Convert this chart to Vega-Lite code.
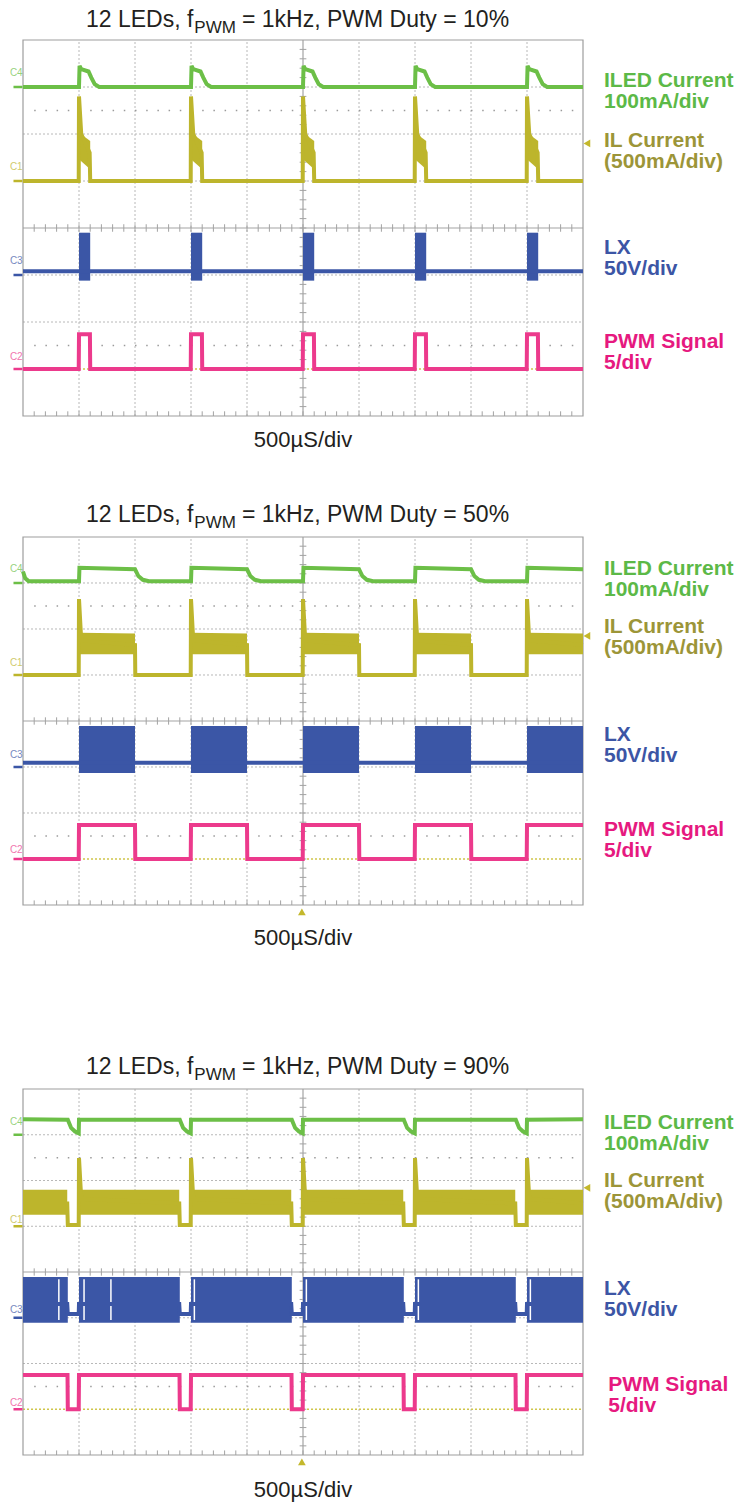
{
"$schema": "https://vega.github.io/schema/vega-lite/v6.json",
"background": "white",
"padding": {"left": 9, "top": 8, "right": 0, "bottom": 0},
"config": {"view": {"stroke": null}, "text": {"font": "Liberation Sans"}},
"datasets": {
"gridV": [{"t":1},{"t":2},{"t":3},{"t":4},{"t":6},{"t":7},{"t":8},{"t":9}],
"gridH": [{"v":2},{"v":3},{"v":5},{"v":6},{"v":7}],
"dotsH": [{"v":1.5},{"v":6.5}],
"ref1": [{"v":1}],
"centerV": [{"t":5}],
"centerH": [{"v":4}],
"one": [{"k":1}],
"ticksT": [{"t":0.2},{"t":0.4},{"t":0.6},{"t":0.8},{"t":1},{"t":1.2},{"t":1.4},{"t":1.6},{"t":1.8},{"t":2},{"t":2.2},{"t":2.4},{"t":2.6},{"t":2.8},{"t":3},{"t":3.2},{"t":3.4},{"t":3.6},{"t":3.8},{"t":4},{"t":4.2},{"t":4.4},{"t":4.6},{"t":4.8},{"t":5},{"t":5.2},{"t":5.4},{"t":5.6},{"t":5.8},{"t":6},{"t":6.2},{"t":6.4},{"t":6.6},{"t":6.8},{"t":7},{"t":7.2},{"t":7.4},{"t":7.6},{"t":7.8},{"t":8},{"t":8.2},{"t":8.4},{"t":8.6},{"t":8.8},{"t":9},{"t":9.2},{"t":9.4},{"t":9.6},{"t":9.8}],
"ticksV": [{"v":0.2},{"v":0.4},{"v":0.6},{"v":0.8},{"v":1},{"v":1.2},{"v":1.4},{"v":1.6},{"v":1.8},{"v":2},{"v":2.2},{"v":2.4},{"v":2.6},{"v":2.8},{"v":3},{"v":3.2},{"v":3.4},{"v":3.6},{"v":3.8},{"v":4},{"v":4.2},{"v":4.4},{"v":4.6},{"v":4.8},{"v":5},{"v":5.2},{"v":5.4},{"v":5.6},{"v":5.8},{"v":6},{"v":6.2},{"v":6.4},{"v":6.6},{"v":6.8},{"v":7},{"v":7.2},{"v":7.4},{"v":7.6},{"v":7.8}],
"markers": [{"c":"C4","v":7},{"c":"C1","v":5},{"c":"C3","v":3},{"c":"C2","v":1}],
"p1l": [
{"c":"C4","t":0,"v":7},
{"c":"C4","t":1,"v":7},{"c":"C4","t":1.01,"v":7.45},{"c":"C4","t":1.04,"v":7.38},{"c":"C4","t":1.17,"v":7.33},{"c":"C4","t":1.22,"v":7.2},{"c":"C4","t":1.28,"v":7.06},{"c":"C4","t":1.36,"v":7},
{"c":"C4","t":3,"v":7},{"c":"C4","t":3.01,"v":7.45},{"c":"C4","t":3.04,"v":7.38},{"c":"C4","t":3.17,"v":7.33},{"c":"C4","t":3.22,"v":7.2},{"c":"C4","t":3.28,"v":7.06},{"c":"C4","t":3.36,"v":7},
{"c":"C4","t":5,"v":7},{"c":"C4","t":5.01,"v":7.45},{"c":"C4","t":5.04,"v":7.38},{"c":"C4","t":5.17,"v":7.33},{"c":"C4","t":5.22,"v":7.2},{"c":"C4","t":5.28,"v":7.06},{"c":"C4","t":5.36,"v":7},
{"c":"C4","t":7,"v":7},{"c":"C4","t":7.01,"v":7.45},{"c":"C4","t":7.04,"v":7.38},{"c":"C4","t":7.17,"v":7.33},{"c":"C4","t":7.22,"v":7.2},{"c":"C4","t":7.28,"v":7.06},{"c":"C4","t":7.36,"v":7},
{"c":"C4","t":9,"v":7},{"c":"C4","t":9.01,"v":7.45},{"c":"C4","t":9.04,"v":7.38},{"c":"C4","t":9.17,"v":7.33},{"c":"C4","t":9.22,"v":7.2},{"c":"C4","t":9.28,"v":7.06},{"c":"C4","t":9.36,"v":7},
{"c":"C4","t":10,"v":7},
{"c":"C1","t":0,"v":5},
{"c":"C1","t":0.995,"v":5},{"c":"C1","t":1,"v":6.8},{"c":"C1","t":1.04,"v":6},{"c":"C1","t":1.19,"v":5.6},{"c":"C1","t":1.2,"v":5},
{"c":"C1","t":2.995,"v":5},{"c":"C1","t":3,"v":6.8},{"c":"C1","t":3.04,"v":6},{"c":"C1","t":3.19,"v":5.6},{"c":"C1","t":3.2,"v":5},
{"c":"C1","t":4.995,"v":5},{"c":"C1","t":5,"v":6.8},{"c":"C1","t":5.04,"v":6},{"c":"C1","t":5.19,"v":5.6},{"c":"C1","t":5.2,"v":5},
{"c":"C1","t":6.995,"v":5},{"c":"C1","t":7,"v":6.8},{"c":"C1","t":7.04,"v":6},{"c":"C1","t":7.19,"v":5.6},{"c":"C1","t":7.2,"v":5},
{"c":"C1","t":8.995,"v":5},{"c":"C1","t":9,"v":6.8},{"c":"C1","t":9.04,"v":6},{"c":"C1","t":9.19,"v":5.6},{"c":"C1","t":9.2,"v":5},
{"c":"C1","t":10,"v":5},
{"c":"C3","t":0,"v":3.08},{"c":"C3","t":10,"v":3.08},
{"c":"C2","t":0,"v":1},
{"c":"C2","t":0.995,"v":1},{"c":"C2","t":1,"v":1.74},{"c":"C2","t":1.195,"v":1.74},{"c":"C2","t":1.2,"v":1},
{"c":"C2","t":2.995,"v":1},{"c":"C2","t":3,"v":1.74},{"c":"C2","t":3.195,"v":1.74},{"c":"C2","t":3.2,"v":1},
{"c":"C2","t":4.995,"v":1},{"c":"C2","t":5,"v":1.74},{"c":"C2","t":5.195,"v":1.74},{"c":"C2","t":5.2,"v":1},
{"c":"C2","t":6.995,"v":1},{"c":"C2","t":7,"v":1.74},{"c":"C2","t":7.195,"v":1.74},{"c":"C2","t":7.2,"v":1},
{"c":"C2","t":8.995,"v":1},{"c":"C2","t":9,"v":1.74},{"c":"C2","t":9.195,"v":1.74},{"c":"C2","t":9.2,"v":1},
{"c":"C2","t":10,"v":1}
],
"p1b": [
{"c":"C3","g":"b1","t":1,"lo":2.88,"hi":3.9},{"c":"C3","g":"b1","t":1.2,"lo":2.88,"hi":3.9},
{"c":"C3","g":"b3","t":3,"lo":2.88,"hi":3.9},{"c":"C3","g":"b3","t":3.2,"lo":2.88,"hi":3.9},
{"c":"C3","g":"b5","t":5,"lo":2.88,"hi":3.9},{"c":"C3","g":"b5","t":5.2,"lo":2.88,"hi":3.9},
{"c":"C3","g":"b7","t":7,"lo":2.88,"hi":3.9},{"c":"C3","g":"b7","t":7.2,"lo":2.88,"hi":3.9},
{"c":"C3","g":"b9","t":9,"lo":2.88,"hi":3.9},{"c":"C3","g":"b9","t":9.2,"lo":2.88,"hi":3.9},
{"c":"C1","g":"a1","t":1.01,"lo":5.45,"hi":6.02},{"c":"C1","g":"a1","t":1.2,"lo":5.25,"hi":5.85},
{"c":"C1","g":"a3","t":3.01,"lo":5.45,"hi":6.02},{"c":"C1","g":"a3","t":3.2,"lo":5.25,"hi":5.85},
{"c":"C1","g":"a5","t":5.01,"lo":5.45,"hi":6.02},{"c":"C1","g":"a5","t":5.2,"lo":5.25,"hi":5.85},
{"c":"C1","g":"a7","t":7.01,"lo":5.45,"hi":6.02},{"c":"C1","g":"a7","t":7.2,"lo":5.25,"hi":5.85},
{"c":"C1","g":"a9","t":9.01,"lo":5.45,"hi":6.02},{"c":"C1","g":"a9","t":9.2,"lo":5.25,"hi":5.85}
],
"p2l": [
{"c":"C4","t":0,"v":7.25},{"c":"C4","t":0.04,"v":7.1},{"c":"C4","t":0.1,"v":7.04},
{"c":"C4","t":1,"v":7.04},{"c":"C4","t":1.008,"v":7.33},{"c":"C4","t":2,"v":7.3},{"c":"C4","t":2.06,"v":7.15},{"c":"C4","t":2.14,"v":7.07},{"c":"C4","t":2.25,"v":7.04},
{"c":"C4","t":3,"v":7.04},{"c":"C4","t":3.008,"v":7.33},{"c":"C4","t":4,"v":7.3},{"c":"C4","t":4.06,"v":7.15},{"c":"C4","t":4.14,"v":7.07},{"c":"C4","t":4.25,"v":7.04},
{"c":"C4","t":5,"v":7.04},{"c":"C4","t":5.008,"v":7.33},{"c":"C4","t":6,"v":7.3},{"c":"C4","t":6.06,"v":7.15},{"c":"C4","t":6.14,"v":7.07},{"c":"C4","t":6.25,"v":7.04},
{"c":"C4","t":7,"v":7.04},{"c":"C4","t":7.008,"v":7.33},{"c":"C4","t":8,"v":7.3},{"c":"C4","t":8.06,"v":7.15},{"c":"C4","t":8.14,"v":7.07},{"c":"C4","t":8.25,"v":7.04},
{"c":"C4","t":9,"v":7.04},{"c":"C4","t":9.008,"v":7.33},{"c":"C4","t":10,"v":7.3},
{"c":"C1","t":0,"v":5},
{"c":"C1","t":0.995,"v":5},{"c":"C1","t":1,"v":6.65},{"c":"C1","t":1.04,"v":5.75},{"c":"C1","t":2,"v":5.65},{"c":"C1","t":2.005,"v":5},
{"c":"C1","t":2.995,"v":5},{"c":"C1","t":3,"v":6.65},{"c":"C1","t":3.04,"v":5.75},{"c":"C1","t":4,"v":5.65},{"c":"C1","t":4.005,"v":5},
{"c":"C1","t":4.995,"v":5},{"c":"C1","t":5,"v":6.65},{"c":"C1","t":5.04,"v":5.75},{"c":"C1","t":6,"v":5.65},{"c":"C1","t":6.005,"v":5},
{"c":"C1","t":6.995,"v":5},{"c":"C1","t":7,"v":6.65},{"c":"C1","t":7.04,"v":5.75},{"c":"C1","t":8,"v":5.65},{"c":"C1","t":8.005,"v":5},
{"c":"C1","t":8.995,"v":5},{"c":"C1","t":9,"v":6.65},{"c":"C1","t":9.04,"v":5.75},{"c":"C1","t":10,"v":5.65},
{"c":"C3","t":0,"v":3.09},{"c":"C3","t":10,"v":3.09},
{"c":"C2","t":0,"v":1},
{"c":"C2","t":0.995,"v":1},{"c":"C2","t":1,"v":1.74},{"c":"C2","t":2,"v":1.74},{"c":"C2","t":2.005,"v":1},
{"c":"C2","t":2.995,"v":1},{"c":"C2","t":3,"v":1.74},{"c":"C2","t":4,"v":1.74},{"c":"C2","t":4.005,"v":1},
{"c":"C2","t":4.995,"v":1},{"c":"C2","t":5,"v":1.74},{"c":"C2","t":6,"v":1.74},{"c":"C2","t":6.005,"v":1},
{"c":"C2","t":6.995,"v":1},{"c":"C2","t":7,"v":1.74},{"c":"C2","t":8,"v":1.74},{"c":"C2","t":8.005,"v":1},
{"c":"C2","t":8.995,"v":1},{"c":"C2","t":9,"v":1.74},{"c":"C2","t":10,"v":1.74}
],
"p2b": [
{"c":"C3","g":"b1","t":1,"lo":2.87,"hi":3.89},{"c":"C3","g":"b1","t":2,"lo":2.87,"hi":3.89},
{"c":"C3","g":"b3","t":3,"lo":2.87,"hi":3.89},{"c":"C3","g":"b3","t":4,"lo":2.87,"hi":3.89},
{"c":"C3","g":"b5","t":5,"lo":2.87,"hi":3.89},{"c":"C3","g":"b5","t":6,"lo":2.87,"hi":3.89},
{"c":"C3","g":"b7","t":7,"lo":2.87,"hi":3.89},{"c":"C3","g":"b7","t":8,"lo":2.87,"hi":3.89},
{"c":"C3","g":"b9","t":9,"lo":2.87,"hi":3.89},{"c":"C3","g":"b9","t":10,"lo":2.87,"hi":3.89},
{"c":"C1","g":"a1","t":1.01,"lo":5.45,"hi":5.92},{"c":"C1","g":"a1","t":2,"lo":5.45,"hi":5.9},
{"c":"C1","g":"a3","t":3.01,"lo":5.45,"hi":5.92},{"c":"C1","g":"a3","t":4,"lo":5.45,"hi":5.9},
{"c":"C1","g":"a5","t":5.01,"lo":5.45,"hi":5.92},{"c":"C1","g":"a5","t":6,"lo":5.45,"hi":5.9},
{"c":"C1","g":"a7","t":7.01,"lo":5.45,"hi":5.92},{"c":"C1","g":"a7","t":8,"lo":5.45,"hi":5.9},
{"c":"C1","g":"a9","t":9.01,"lo":5.45,"hi":5.92},{"c":"C1","g":"a9","t":10,"lo":5.45,"hi":5.9}
],
"p3l": [
{"c":"C4","t":0,"v":7.34},
{"c":"C4","t":0.8,"v":7.33},{"c":"C4","t":0.86,"v":7.15},{"c":"C4","t":0.93,"v":7.07},{"c":"C4","t":0.995,"v":7.03},{"c":"C4","t":1,"v":7.33},
{"c":"C4","t":2.8,"v":7.33},{"c":"C4","t":2.86,"v":7.15},{"c":"C4","t":2.93,"v":7.07},{"c":"C4","t":2.995,"v":7.03},{"c":"C4","t":3,"v":7.33},
{"c":"C4","t":4.8,"v":7.33},{"c":"C4","t":4.86,"v":7.15},{"c":"C4","t":4.93,"v":7.07},{"c":"C4","t":4.995,"v":7.03},{"c":"C4","t":5,"v":7.33},
{"c":"C4","t":6.8,"v":7.33},{"c":"C4","t":6.86,"v":7.15},{"c":"C4","t":6.93,"v":7.07},{"c":"C4","t":6.995,"v":7.03},{"c":"C4","t":7,"v":7.33},
{"c":"C4","t":8.8,"v":7.33},{"c":"C4","t":8.86,"v":7.15},{"c":"C4","t":8.93,"v":7.07},{"c":"C4","t":8.995,"v":7.03},{"c":"C4","t":9,"v":7.33},
{"c":"C4","t":10,"v":7.34},
{"c":"C1","t":0,"v":5.5},
{"c":"C1","t":0.79,"v":5.5},{"c":"C1","t":0.8,"v":5.03},{"c":"C1","t":0.995,"v":5.03},{"c":"C1","t":1,"v":6.49},{"c":"C1","t":1.04,"v":5.6},
{"c":"C1","t":2.79,"v":5.5},{"c":"C1","t":2.8,"v":5.03},{"c":"C1","t":2.995,"v":5.03},{"c":"C1","t":3,"v":6.49},{"c":"C1","t":3.04,"v":5.6},
{"c":"C1","t":4.79,"v":5.5},{"c":"C1","t":4.8,"v":5.03},{"c":"C1","t":4.995,"v":5.03},{"c":"C1","t":5,"v":6.49},{"c":"C1","t":5.04,"v":5.6},
{"c":"C1","t":6.79,"v":5.5},{"c":"C1","t":6.8,"v":5.03},{"c":"C1","t":6.995,"v":5.03},{"c":"C1","t":7,"v":6.49},{"c":"C1","t":7.04,"v":5.6},
{"c":"C1","t":8.79,"v":5.5},{"c":"C1","t":8.8,"v":5.03},{"c":"C1","t":8.995,"v":5.03},{"c":"C1","t":9,"v":6.49},{"c":"C1","t":9.04,"v":5.6},
{"c":"C1","t":10,"v":5.5},
{"c":"C3","t":0,"v":3.3},
{"c":"C3","t":0.79,"v":3.3},{"c":"C3","t":0.8,"v":3.08},{"c":"C3","t":0.995,"v":3.08},{"c":"C3","t":1,"v":3.3},
{"c":"C3","t":2.79,"v":3.3},{"c":"C3","t":2.8,"v":3.08},{"c":"C3","t":2.995,"v":3.08},{"c":"C3","t":3,"v":3.3},
{"c":"C3","t":4.79,"v":3.3},{"c":"C3","t":4.8,"v":3.08},{"c":"C3","t":4.995,"v":3.08},{"c":"C3","t":5,"v":3.3},
{"c":"C3","t":6.79,"v":3.3},{"c":"C3","t":6.8,"v":3.08},{"c":"C3","t":6.995,"v":3.08},{"c":"C3","t":7,"v":3.3},
{"c":"C3","t":8.79,"v":3.3},{"c":"C3","t":8.8,"v":3.08},{"c":"C3","t":8.995,"v":3.08},{"c":"C3","t":9,"v":3.3},
{"c":"C3","t":10,"v":3.3},
{"c":"C2","t":0,"v":1.75},
{"c":"C2","t":0.795,"v":1.75},{"c":"C2","t":0.8,"v":1},{"c":"C2","t":0.995,"v":1},{"c":"C2","t":1,"v":1.75},
{"c":"C2","t":2.795,"v":1.75},{"c":"C2","t":2.8,"v":1},{"c":"C2","t":2.995,"v":1},{"c":"C2","t":3,"v":1.75},
{"c":"C2","t":4.795,"v":1.75},{"c":"C2","t":4.8,"v":1},{"c":"C2","t":4.995,"v":1},{"c":"C2","t":5,"v":1.75},
{"c":"C2","t":6.795,"v":1.75},{"c":"C2","t":6.8,"v":1},{"c":"C2","t":6.995,"v":1},{"c":"C2","t":7,"v":1.75},
{"c":"C2","t":8.795,"v":1.75},{"c":"C2","t":8.8,"v":1},{"c":"C2","t":8.995,"v":1},{"c":"C2","t":9,"v":1.75},
{"c":"C2","t":10,"v":1.75}
],
"p3b": [
{"c":"C3","g":"b0","t":0,"lo":2.89,"hi":3.89},{"c":"C3","g":"b0","t":0.8,"lo":2.89,"hi":3.89},
{"c":"C3","g":"b1","t":1,"lo":2.89,"hi":3.89},{"c":"C3","g":"b1","t":2.8,"lo":2.89,"hi":3.89},
{"c":"C3","g":"b3","t":3,"lo":2.89,"hi":3.89},{"c":"C3","g":"b3","t":4.8,"lo":2.89,"hi":3.89},
{"c":"C3","g":"b5","t":5,"lo":2.89,"hi":3.89},{"c":"C3","g":"b5","t":6.8,"lo":2.89,"hi":3.89},
{"c":"C3","g":"b7","t":7,"lo":2.89,"hi":3.89},{"c":"C3","g":"b7","t":8.8,"lo":2.89,"hi":3.89},
{"c":"C3","g":"b9","t":9,"lo":2.89,"hi":3.89},{"c":"C3","g":"b9","t":10,"lo":2.89,"hi":3.89},
{"c":"C1","g":"a0","t":0,"lo":5.25,"hi":5.8},{"c":"C1","g":"a0","t":0.79,"lo":5.25,"hi":5.8},
{"c":"C1","g":"a1","t":1.01,"lo":5.25,"hi":5.8},{"c":"C1","g":"a1","t":2.79,"lo":5.25,"hi":5.8},
{"c":"C1","g":"a3","t":3.01,"lo":5.25,"hi":5.8},{"c":"C1","g":"a3","t":4.79,"lo":5.25,"hi":5.8},
{"c":"C1","g":"a5","t":5.01,"lo":5.25,"hi":5.8},{"c":"C1","g":"a5","t":6.79,"lo":5.25,"hi":5.8},
{"c":"C1","g":"a7","t":7.01,"lo":5.25,"hi":5.8},{"c":"C1","g":"a7","t":8.79,"lo":5.25,"hi":5.8},
{"c":"C1","g":"a9","t":9.01,"lo":5.25,"hi":5.8},{"c":"C1","g":"a9","t":10,"lo":5.25,"hi":5.8}
],
"p3gap": [{"t":0.64},{"t":1.09},{"t":1.57},{"t":3.06},{"t":5.06},{"t":7.06},{"t":9.06}],
"p1lab": [{"c":"ILED","t":10.375,"v":7.0,"s":"ILED Current\n100mA/div"},{"c":"IL","t":10.375,"v":5.72,"s":"IL Current\n(500mA/div)"},{"c":"LX","t":10.375,"v":3.45,"s":"LX\n50V/div"},{"c":"PWM","t":10.375,"v":1.45,"s":"PWM Signal\n5/div"}],
"p2lab": [{"c":"ILED","t":10.375,"v":7.17,"s":"ILED Current\n100mA/div"},{"c":"IL","t":10.375,"v":5.91,"s":"IL Current\n(500mA/div)"},{"c":"LX","t":10.375,"v":3.57,"s":"LX\n50V/div"},{"c":"PWM","t":10.375,"v":1.5,"s":"PWM Signal\n5/div"}],
"p3lab": [{"c":"ILED","t":10.375,"v":7.13,"s":"ILED Current\n100mA/div"},{"c":"IL","t":10.375,"v":5.86,"s":"IL Current\n(500mA/div)"},{"c":"LX","t":10.375,"v":3.5,"s":"LX\n50V/div"},{"c":"PWM","t":10.45,"v":1.4,"s":"PWM Signal\n5/div"}],
"p1tag": [{"c":"C4","t":-0.12,"v":7.3,"s":"C4"},{"c":"C1","t":-0.12,"v":5.3,"s":"C1"},{"c":"C3","t":-0.12,"v":3.3,"s":"C3"},{"c":"C2","t":-0.12,"v":1.25,"s":"C2"}],
"p2tag": [{"c":"C4","t":-0.12,"v":7.3,"s":"C4"},{"c":"C1","t":-0.12,"v":5.26,"s":"C1"},{"c":"C3","t":-0.12,"v":3.26,"s":"C3"},{"c":"C2","t":-0.12,"v":1.2,"s":"C2"}],
"p3tag": [{"c":"C4","t":-0.12,"v":7.28,"s":"C4"},{"c":"C1","t":-0.12,"v":5.14,"s":"C1"},{"c":"C3","t":-0.12,"v":3.17,"s":"C3"},{"c":"C2","t":-0.12,"v":1.14,"s":"C2"}],
"p1title": [{"t":1.125,"v":8.28,"s":"12 LEDs, f"},{"t":3.91,"v":8.28,"s":"= 1kHz, PWM Duty = 10%"}],
"p2title": [{"t":1.125,"v":8.33,"s":"12 LEDs, f"},{"t":3.91,"v":8.33,"s":"= 1kHz, PWM Duty = 50%"}],
"p3title": [{"t":1.125,"v":8.33,"s":"12 LEDs, f"},{"t":3.91,"v":8.33,"s":"= 1kHz, PWM Duty = 90%"}],
"p1sub": [{"t":3.06,"v":8.28,"s":"PWM"}],
"p2sub": [{"t":3.06,"v":8.33,"s":"PWM"}],
"p3sub": [{"t":3.06,"v":8.33,"s":"PWM"}],
"p1bot": [{"t":5,"v":-0.66,"s":"500µS/div"}],
"p2bot": [{"t":5,"v":-0.87,"s":"500µS/div"}],
"p3bot": [{"t":5,"v":-0.92,"s":"500µS/div"}],
"p1tri": [{"t":10.07,"v":5.8}],
"p2tri": [{"t":10.07,"v":5.85}],
"p3tri": [{"t":10.07,"v":5.84}],
"triB": [{"t":4.98,"v":-0.15}]
},
"spacing": 121,
"bounds": "flush",
"resolve": {"scale": {"x": "independent", "y": "independent"}},
"vconcat": [
{
"width": 560, "height": 376,
"layer": [
{"data":{"name":"gridV"},"mark":{"type":"rule","color":"#b8b8b8","strokeDash":[2,2],"strokeWidth":1},"encoding":{"x":{"field":"t","type":"quantitative","scale":{"domain":[0,10],"nice":false,"zero":false},"axis":null},"y":{"datum":0,"type":"quantitative","scale":{"domain":[0,8],"nice":false,"zero":false},"axis":null},"y2":{"datum":8}}},
{"data":{"name":"gridH"},"mark":{"type":"rule","color":"#b8b8b8","strokeDash":[2,2],"strokeWidth":1},"encoding":{"y":{"field":"v","type":"quantitative"},"x":{"datum":0,"type":"quantitative"},"x2":{"datum":10}}},
{"data":{"name":"dotsH"},"mark":{"type":"rule","color":"#9a9a9a","strokeDash":[1.5,9.7],"strokeWidth":1.5},"encoding":{"y":{"field":"v","type":"quantitative"},"x":{"datum":0.2,"type":"quantitative"},"x2":{"datum":10}}},
{"data":{"name":"ref1"},"mark":{"type":"rule","color":"#cfc54a","strokeDash":[2,2],"strokeWidth":1.3},"encoding":{"y":{"field":"v","type":"quantitative"},"x":{"datum":0,"type":"quantitative"},"x2":{"datum":10}}},
{"data":{"name":"centerV"},"mark":{"type":"rule","color":"#a3a3a3","strokeWidth":1.2},"encoding":{"x":{"field":"t","type":"quantitative"},"y":{"datum":0,"type":"quantitative"},"y2":{"datum":8}}},
{"data":{"name":"centerH"},"mark":{"type":"rule","color":"#a3a3a3","strokeWidth":1.2},"encoding":{"y":{"field":"v","type":"quantitative"},"x":{"datum":0,"type":"quantitative"},"x2":{"datum":10}}},
{"data":{"name":"ticksT"},"mark":{"type":"rule","color":"#a3a3a3","strokeWidth":1},"encoding":{"x":{"field":"t","type":"quantitative"},"y":{"datum":3.92,"type":"quantitative"},"y2":{"datum":4.08}}},
{"data":{"name":"ticksV"},"mark":{"type":"rule","color":"#a3a3a3","strokeWidth":1},"encoding":{"y":{"field":"v","type":"quantitative"},"x":{"datum":4.94,"type":"quantitative"},"x2":{"datum":5.06}}},
{"data":{"name":"ticksT"},"mark":{"type":"rule","color":"#a3a3a3","strokeWidth":1},"encoding":{"x":{"field":"t","type":"quantitative"},"y":{"datum":0,"type":"quantitative"},"y2":{"datum":0.1}}},
{"data":{"name":"one"},"mark":{"type":"rect","fillOpacity":0,"stroke":"#9d9d9d","strokeWidth":1.2},"encoding":{"x":{"datum":0,"type":"quantitative"},"x2":{"datum":10},"y":{"datum":0,"type":"quantitative"},"y2":{"datum":8}}},
{"data":{"name":"p1b"},"mark":{"type":"area","opacity":1},"encoding":{"x":{"field":"t","type":"quantitative"},"y":{"field":"hi","type":"quantitative"},"y2":{"field":"lo"},"detail":{"field":"g"},"color":{"field":"c","type":"nominal","scale":{"domain":["C4","C1","C3","C2","ILED","IL","LX","PWM"],"range":["#6cbf47","#bdb52c","#3b56a6","#ec3a8c","#5cb947","#9c9538","#3c55a5","#e6197f"]},"legend":null}}},
{"data":{"name":"p1l"},"mark":{"type":"line","strokeWidth":4},"encoding":{"x":{"field":"t","type":"quantitative"},"y":{"field":"v","type":"quantitative"},"color":{"field":"c","type":"nominal","legend":null}}},
{"data":{"name":"markers"},"mark":{"type":"rule","strokeWidth":2.5},"encoding":{"y":{"field":"v","type":"quantitative"},"x":{"datum":-0.17,"type":"quantitative"},"x2":{"datum":-0.01},"color":{"field":"c","type":"nominal","legend":null}}},
{"data":{"name":"p1tag"},"mark":{"type":"text","fontSize":10,"opacity":0.7,"align":"center","baseline":"middle"},"encoding":{"x":{"field":"t","type":"quantitative"},"y":{"field":"v","type":"quantitative"},"text":{"field":"s"},"color":{"field":"c","type":"nominal","legend":null}}},
{"data":{"name":"p1lab"},"mark":{"type":"text","fontSize":21,"fontWeight":"bold","align":"left","baseline":"alphabetic","lineBreak":"\n","lineHeight":21},"encoding":{"x":{"field":"t","type":"quantitative"},"y":{"field":"v","type":"quantitative"},"text":{"field":"s"},"color":{"field":"c","type":"nominal","legend":null}}},
{"data":{"name":"p1title"},"mark":{"type":"text","fontSize":23,"color":"#231f20","align":"left","baseline":"alphabetic"},"encoding":{"x":{"field":"t","type":"quantitative"},"y":{"field":"v","type":"quantitative"},"text":{"field":"s"}}},
{"data":{"name":"p1sub"},"mark":{"type":"text","fontSize":17,"dy":6,"color":"#231f20","align":"left","baseline":"alphabetic"},"encoding":{"x":{"field":"t","type":"quantitative"},"y":{"field":"v","type":"quantitative"},"text":{"field":"s"}}},
{"data":{"name":"p1bot"},"mark":{"type":"text","fontSize":22,"color":"#231f20","align":"center","baseline":"alphabetic"},"encoding":{"x":{"field":"t","type":"quantitative"},"y":{"field":"v","type":"quantitative"},"text":{"field":"s"}}},
{"data":{"name":"p1tri"},"mark":{"type":"point","shape":"triangle-left","filled":true,"color":"#c4b82c","size":60,"opacity":1},"encoding":{"x":{"field":"t","type":"quantitative"},"y":{"field":"v","type":"quantitative"}}}
]
},
{
"width": 560, "height": 431,
"layer": [
{"data":{"name":"gridV"},"mark":{"type":"rule","color":"#b8b8b8","strokeDash":[2,2],"strokeWidth":1},"encoding":{"x":{"field":"t","type":"quantitative","scale":{"domain":[0,10],"nice":false,"zero":false},"axis":null},"y":{"datum":0,"type":"quantitative","scale":{"domain":[-1.3696,8],"nice":false,"zero":false},"axis":null},"y2":{"datum":8}}},
{"data":{"name":"gridH"},"mark":{"type":"rule","color":"#b8b8b8","strokeDash":[2,2],"strokeWidth":1},"encoding":{"y":{"field":"v","type":"quantitative"},"x":{"datum":0,"type":"quantitative"},"x2":{"datum":10}}},
{"data":{"name":"dotsH"},"mark":{"type":"rule","color":"#9a9a9a","strokeDash":[1.5,9.7],"strokeWidth":1.5},"encoding":{"y":{"field":"v","type":"quantitative"},"x":{"datum":0.2,"type":"quantitative"},"x2":{"datum":10}}},
{"data":{"name":"ref1"},"mark":{"type":"rule","color":"#cfc54a","strokeDash":[2,2],"strokeWidth":1.3},"encoding":{"y":{"field":"v","type":"quantitative"},"x":{"datum":0,"type":"quantitative"},"x2":{"datum":10}}},
{"data":{"name":"centerV"},"mark":{"type":"rule","color":"#a3a3a3","strokeWidth":1.2},"encoding":{"x":{"field":"t","type":"quantitative"},"y":{"datum":0,"type":"quantitative"},"y2":{"datum":8}}},
{"data":{"name":"centerH"},"mark":{"type":"rule","color":"#a3a3a3","strokeWidth":1.2},"encoding":{"y":{"field":"v","type":"quantitative"},"x":{"datum":0,"type":"quantitative"},"x2":{"datum":10}}},
{"data":{"name":"ticksT"},"mark":{"type":"rule","color":"#a3a3a3","strokeWidth":1},"encoding":{"x":{"field":"t","type":"quantitative"},"y":{"datum":3.92,"type":"quantitative"},"y2":{"datum":4.08}}},
{"data":{"name":"ticksV"},"mark":{"type":"rule","color":"#a3a3a3","strokeWidth":1},"encoding":{"y":{"field":"v","type":"quantitative"},"x":{"datum":4.94,"type":"quantitative"},"x2":{"datum":5.06}}},
{"data":{"name":"ticksT"},"mark":{"type":"rule","color":"#a3a3a3","strokeWidth":1},"encoding":{"x":{"field":"t","type":"quantitative"},"y":{"datum":0,"type":"quantitative"},"y2":{"datum":0.1}}},
{"data":{"name":"one"},"mark":{"type":"rect","fillOpacity":0,"stroke":"#9d9d9d","strokeWidth":1.2},"encoding":{"x":{"datum":0,"type":"quantitative"},"x2":{"datum":10},"y":{"datum":0,"type":"quantitative"},"y2":{"datum":8}}},
{"data":{"name":"p2b"},"mark":{"type":"area","opacity":1},"encoding":{"x":{"field":"t","type":"quantitative"},"y":{"field":"hi","type":"quantitative"},"y2":{"field":"lo"},"detail":{"field":"g"},"color":{"field":"c","type":"nominal","scale":{"domain":["C4","C1","C3","C2","ILED","IL","LX","PWM"],"range":["#6cbf47","#bdb52c","#3b56a6","#ec3a8c","#5cb947","#9c9538","#3c55a5","#e6197f"]},"legend":null}}},
{"data":{"name":"p2l"},"mark":{"type":"line","strokeWidth":4},"encoding":{"x":{"field":"t","type":"quantitative"},"y":{"field":"v","type":"quantitative"},"color":{"field":"c","type":"nominal","legend":null}}},
{"data":{"name":"markers"},"mark":{"type":"rule","strokeWidth":2.5},"encoding":{"y":{"field":"v","type":"quantitative"},"x":{"datum":-0.17,"type":"quantitative"},"x2":{"datum":-0.01},"color":{"field":"c","type":"nominal","legend":null}}},
{"data":{"name":"p2tag"},"mark":{"type":"text","fontSize":10,"opacity":0.7,"align":"center","baseline":"middle"},"encoding":{"x":{"field":"t","type":"quantitative"},"y":{"field":"v","type":"quantitative"},"text":{"field":"s"},"color":{"field":"c","type":"nominal","legend":null}}},
{"data":{"name":"p2lab"},"mark":{"type":"text","fontSize":21,"fontWeight":"bold","align":"left","baseline":"alphabetic","lineBreak":"\n","lineHeight":21},"encoding":{"x":{"field":"t","type":"quantitative"},"y":{"field":"v","type":"quantitative"},"text":{"field":"s"},"color":{"field":"c","type":"nominal","legend":null}}},
{"data":{"name":"p2title"},"mark":{"type":"text","fontSize":23,"color":"#231f20","align":"left","baseline":"alphabetic"},"encoding":{"x":{"field":"t","type":"quantitative"},"y":{"field":"v","type":"quantitative"},"text":{"field":"s"}}},
{"data":{"name":"p2sub"},"mark":{"type":"text","fontSize":17,"dy":6,"color":"#231f20","align":"left","baseline":"alphabetic"},"encoding":{"x":{"field":"t","type":"quantitative"},"y":{"field":"v","type":"quantitative"},"text":{"field":"s"}}},
{"data":{"name":"p2bot"},"mark":{"type":"text","fontSize":22,"color":"#231f20","align":"center","baseline":"alphabetic"},"encoding":{"x":{"field":"t","type":"quantitative"},"y":{"field":"v","type":"quantitative"},"text":{"field":"s"}}},
{"data":{"name":"p2tri"},"mark":{"type":"point","shape":"triangle-left","filled":true,"color":"#c4b82c","size":60,"opacity":1},"encoding":{"x":{"field":"t","type":"quantitative"},"y":{"field":"v","type":"quantitative"}}},
{"data":{"name":"triB"},"mark":{"type":"point","shape":"triangle-up","filled":true,"color":"#c4b82c","size":60,"opacity":1},"encoding":{"x":{"field":"t","type":"quantitative"},"y":{"field":"v","type":"quantitative"}}}
]
},
{
"width": 560, "height": 366,
"layer": [
{"data":{"name":"gridV"},"mark":{"type":"rule","color":"#b8b8b8","strokeDash":[2,2],"strokeWidth":1},"encoding":{"x":{"field":"t","type":"quantitative","scale":{"domain":[0,10],"nice":false,"zero":false},"axis":null},"y":{"datum":0,"type":"quantitative","scale":{"domain":[0,8],"nice":false,"zero":false},"axis":null},"y2":{"datum":8}}},
{"data":{"name":"gridH"},"mark":{"type":"rule","color":"#b8b8b8","strokeDash":[2,2],"strokeWidth":1},"encoding":{"y":{"field":"v","type":"quantitative"},"x":{"datum":0,"type":"quantitative"},"x2":{"datum":10}}},
{"data":{"name":"dotsH"},"mark":{"type":"rule","color":"#9a9a9a","strokeDash":[1.5,9.7],"strokeWidth":1.5},"encoding":{"y":{"field":"v","type":"quantitative"},"x":{"datum":0.2,"type":"quantitative"},"x2":{"datum":10}}},
{"data":{"name":"ref1"},"mark":{"type":"rule","color":"#cfc54a","strokeDash":[2,2],"strokeWidth":1.3},"encoding":{"y":{"field":"v","type":"quantitative"},"x":{"datum":0,"type":"quantitative"},"x2":{"datum":10}}},
{"data":{"name":"centerV"},"mark":{"type":"rule","color":"#a3a3a3","strokeWidth":1.2},"encoding":{"x":{"field":"t","type":"quantitative"},"y":{"datum":0,"type":"quantitative"},"y2":{"datum":8}}},
{"data":{"name":"centerH"},"mark":{"type":"rule","color":"#a3a3a3","strokeWidth":1.2},"encoding":{"y":{"field":"v","type":"quantitative"},"x":{"datum":0,"type":"quantitative"},"x2":{"datum":10}}},
{"data":{"name":"ticksT"},"mark":{"type":"rule","color":"#a3a3a3","strokeWidth":1},"encoding":{"x":{"field":"t","type":"quantitative"},"y":{"datum":3.92,"type":"quantitative"},"y2":{"datum":4.08}}},
{"data":{"name":"ticksV"},"mark":{"type":"rule","color":"#a3a3a3","strokeWidth":1},"encoding":{"y":{"field":"v","type":"quantitative"},"x":{"datum":4.94,"type":"quantitative"},"x2":{"datum":5.06}}},
{"data":{"name":"ticksT"},"mark":{"type":"rule","color":"#a3a3a3","strokeWidth":1},"encoding":{"x":{"field":"t","type":"quantitative"},"y":{"datum":0,"type":"quantitative"},"y2":{"datum":0.1}}},
{"data":{"name":"one"},"mark":{"type":"rect","fillOpacity":0,"stroke":"#9d9d9d","strokeWidth":1.2},"encoding":{"x":{"datum":0,"type":"quantitative"},"x2":{"datum":10},"y":{"datum":0,"type":"quantitative"},"y2":{"datum":8}}},
{"data":{"name":"p3b"},"mark":{"type":"area","opacity":1},"encoding":{"x":{"field":"t","type":"quantitative"},"y":{"field":"hi","type":"quantitative"},"y2":{"field":"lo"},"detail":{"field":"g"},"color":{"field":"c","type":"nominal","scale":{"domain":["C4","C1","C3","C2","ILED","IL","LX","PWM"],"range":["#6cbf47","#bdb52c","#3b56a6","#ec3a8c","#5cb947","#9c9538","#3c55a5","#e6197f"]},"legend":null}}},
{"data":{"name":"p3gap"},"mark":{"type":"rule","color":"white","strokeWidth":1.5},"encoding":{"x":{"field":"t","type":"quantitative"},"y":{"datum":2.95,"type":"quantitative"},"y2":{"datum":3.84}}},
{"data":{"name":"p3l"},"mark":{"type":"line","strokeWidth":4},"encoding":{"x":{"field":"t","type":"quantitative"},"y":{"field":"v","type":"quantitative"},"color":{"field":"c","type":"nominal","legend":null}}},
{"data":{"name":"markers"},"mark":{"type":"rule","strokeWidth":2.5},"encoding":{"y":{"field":"v","type":"quantitative"},"x":{"datum":-0.17,"type":"quantitative"},"x2":{"datum":-0.01},"color":{"field":"c","type":"nominal","legend":null}}},
{"data":{"name":"p3tag"},"mark":{"type":"text","fontSize":10,"opacity":0.7,"align":"center","baseline":"middle"},"encoding":{"x":{"field":"t","type":"quantitative"},"y":{"field":"v","type":"quantitative"},"text":{"field":"s"},"color":{"field":"c","type":"nominal","legend":null}}},
{"data":{"name":"p3lab"},"mark":{"type":"text","fontSize":21,"fontWeight":"bold","align":"left","baseline":"alphabetic","lineBreak":"\n","lineHeight":21},"encoding":{"x":{"field":"t","type":"quantitative"},"y":{"field":"v","type":"quantitative"},"text":{"field":"s"},"color":{"field":"c","type":"nominal","legend":null}}},
{"data":{"name":"p3title"},"mark":{"type":"text","fontSize":23,"color":"#231f20","align":"left","baseline":"alphabetic"},"encoding":{"x":{"field":"t","type":"quantitative"},"y":{"field":"v","type":"quantitative"},"text":{"field":"s"}}},
{"data":{"name":"p3sub"},"mark":{"type":"text","fontSize":17,"dy":6,"color":"#231f20","align":"left","baseline":"alphabetic"},"encoding":{"x":{"field":"t","type":"quantitative"},"y":{"field":"v","type":"quantitative"},"text":{"field":"s"}}},
{"data":{"name":"p3bot"},"mark":{"type":"text","fontSize":22,"color":"#231f20","align":"center","baseline":"alphabetic"},"encoding":{"x":{"field":"t","type":"quantitative"},"y":{"field":"v","type":"quantitative"},"text":{"field":"s"}}},
{"data":{"name":"p3tri"},"mark":{"type":"point","shape":"triangle-left","filled":true,"color":"#c4b82c","size":60,"opacity":1},"encoding":{"x":{"field":"t","type":"quantitative"},"y":{"field":"v","type":"quantitative"}}},
{"data":{"name":"triB"},"mark":{"type":"point","shape":"triangle-up","filled":true,"color":"#c4b82c","size":60,"opacity":1},"encoding":{"x":{"field":"t","type":"quantitative"},"y":{"field":"v","type":"quantitative"}}}
]
}
]
}
